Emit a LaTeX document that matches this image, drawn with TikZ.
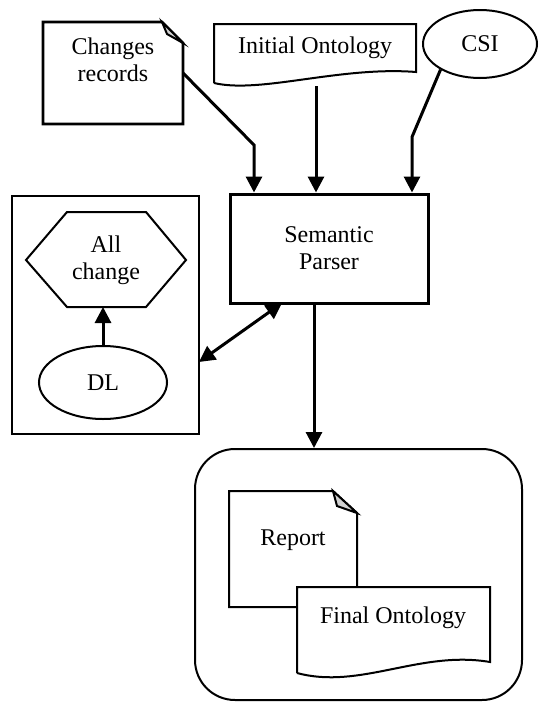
\documentclass[tikz,border=0pt]{standalone}
\usepackage{fontspec}
\setmainfont{Liberation Serif}
\usepackage{tikz}
\usetikzlibrary{shapes.geometric,arrows.meta}

\begin{document}
\begin{tikzpicture}[x=0.5pt,y=-0.5pt,font=\fontsize{12}{13.5}\selectfont,
  arr/.style={line width=1.5pt,-{Triangle[length=8pt,width=8pt]}},
  arrtwo/.style={line width=1.5pt,{Triangle[length=8pt,width=8pt]}-{Triangle[length=8pt,width=8pt]}},
  doc/.style={line width=1.3pt},
  fold/.style={fill=gray!35,line width=1pt}]

\useasboundingbox (0,0) rectangle (538,702);

% Changes records
\draw[doc] (43,22) -- (162,22) -- (183,43) -- (183,124) -- (43,124) -- cycle;
\draw[fold] (162,22) -- (183,43) -- (167,34) -- cycle;
\node[align=center] (chg) at (113,60) {Changes\\records};
\coordinate (chgR) at (183,73);
\coordinate (chgK) at (254,145);

% Initial Ontology
\draw[line width=1pt] (214,83) -- (214,24) -- (416,24) -- (416,72)
  .. controls (340,66) and (260,94) .. (214,83);
\node (init) at (315,48) {Initial Ontology};
\coordinate (initB) at (316,86);

% CSI
\node[ellipse,draw,line width=1pt,minimum width=57pt,minimum height=34pt] (csi) at (480,44) {CSI};
\coordinate (csiK) at (412,137);

% Semantic Parser
\node[draw,line width=1.5pt,align=center,minimum width=99pt,minimum height=54.5pt] (sem) at (329,248.5) {Semantic\\Parser};

\draw[arr] (chgR) -- (chgK) -- (chgK |- sem.north);
\draw[arr] (initB) -- (initB |- sem.north);
\draw[arr] (csi.213) -- (csiK) -- (csiK |- sem.north);

% bloque DL
\node[draw,line width=1pt,minimum width=93.5pt,minimum height=119pt] (dlbox) at (105.5,315) {};
\draw[line width=1pt] (26,260) -- (67,212) -- (146,212) -- (186,260) -- (146,307) -- (67,307) -- cycle;
\node[align=center] (allch) at (106,260) {All\\change};
\coordinate (hexB) at (103,307);
\node[ellipse,draw,line width=1pt,minimum width=64pt,minimum height=36.5pt] (dl) at (103,382.5) {DL};
\draw[arr] (dl.north) -- (hexB);

\coordinate (boxR) at (199,362);
\coordinate (semL) at (282,303);
\draw[arrtwo] (boxR) -- (semL);

% salida
\node[draw,line width=1pt,rounded corners=20pt,minimum width=163.5pt,minimum height=125.5pt] (out) at (358.5,574.5) {};
\coordinate (semD) at (314,303);
\draw[arr] (semD) -- (semD |- out.north);

% Report
\draw[line width=1pt] (229,491) -- (333,491) -- (357,513) -- (357,607) -- (229,607) -- cycle;
\draw[fold] (333,491) -- (357,513) -- (337,506) -- cycle;
\node (rep) at (293,540) {Report};

% Final Ontology
\draw[line width=1pt,fill=white] (297,673) -- (297,587) -- (490,587) -- (490,662)
  .. controls (420,650) and (360,690) .. (297,673);
\node (fin) at (393,618) {Final Ontology};

\end{tikzpicture}
\end{document}
